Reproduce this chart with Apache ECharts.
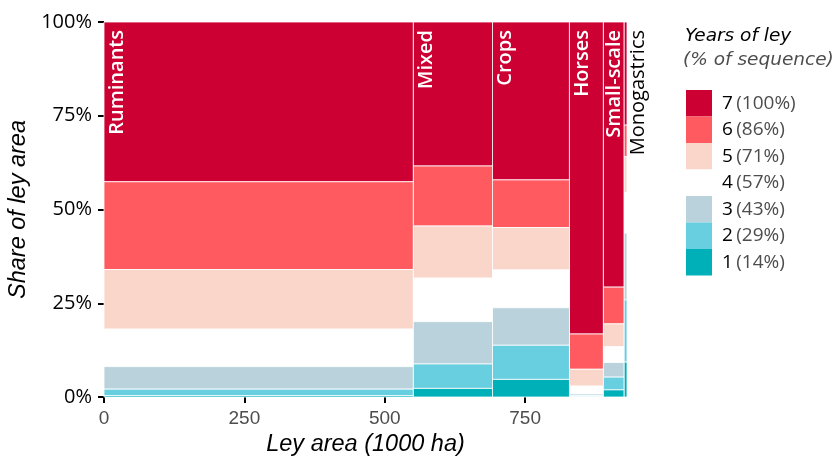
<!DOCTYPE html>
<html><head><meta charset="utf-8">
<script src="https://cdn.jsdelivr.net/npm/echarts@6/dist/echarts.min.js"></script>
<style>html,body{margin:0;padding:0;background:#fff}#c{width:839px;height:457px}</style>
</head><body><div id="c"></div>
<script>
// Farm groups and their ley area (1000 ha)
const groups = ['Ruminants', 'Mixed', 'Crops', 'Horses', 'Small-scale', 'Monogastrics'];
const leyArea = [551, 141, 137, 60.5, 37, 5];
// Years of ley in the sequence (legend), top to bottom
const years = ['7', '6', '5', '4', '3', '2', '1'];
const yearPct = ['100%', '86%', '71%', '57%', '43%', '29%', '14%'];
// Share of ley area (%) per group for each number of ley years
const share1 = [0.4, 2.3, 4.7, 0.1, 1.9, 9.3];
const share2 = [1.7, 6.5, 9.1, 0.3, 3.4, 16.6];
const share3 = [6.0, 11.3, 10.0, 0.4, 3.9, 17.8];
const share4 = [10.0, 11.6, 10.1, 2.1, 4.2, 10.8];
const share5 = [15.9, 13.9, 11.3, 4.5, 6.1, 9.6];
const share6 = [23.4, 16.0, 12.7, 9.4, 9.8, 8.4];
const share7 = [42.6, 38.4, 42.1, 83.2, 70.7, 27.5];
// tick values
const yTicks = [0, 25, 50, 75, 100];
const xTicks = [0, 250, 500, 750];

const colors = {'7':'#CC0033','6':'#FF5A5F','5':'#FAD5C9','4':'#FFFFFF','3':'#B9D2DB','2':'#67CFE0','1':'#00B0B9'};
const sharesByYear = {'1':share1,'2':share2,'3':share3,'4':share4,'5':share5,'6':share6,'7':share7};

// cumulative x positions
const xStart = [];
let acc = 0;
leyArea.forEach(a => { xStart.push(acc); acc += a; });
const xMax = acc;

// stacked from year 1 at bottom to year 7 on top
const stackOrder = ['1','2','3','4','5','6','7'];
const rectData = {};
const base = groups.map(() => 0);
stackOrder.forEach(y => {
  const s = sharesByYear[y];
  rectData[y] = groups.map((g, i) => {
    const row = [xStart[i], xStart[i] + leyArea[i], base[i], base[i] + s[i]];
    base[i] += s[i];
    return row;
  });
});

const chart = echarts.init(document.getElementById('c'), null, {renderer: 'canvas'});

const series = years.map(y => ({
  name: y,
  type: 'custom',
  itemStyle: {color: colors[y]},
  data: rectData[y],
  renderItem: function (params, api) {
    const p0 = api.coord([api.value(0), api.value(3)]);
    const p1 = api.coord([api.value(1), api.value(2)]);
    return {
      type: 'rect',
      shape: {x: p0[0], y: p0[1], width: p1[0] - p0[0], height: p1[1] - p0[1]},
      style: {fill: colors[y], stroke: '#ffffff', lineWidth: 0.8}
    };
  }
}));

series.push({
  type: 'custom',
  name: 'labels',
  silent: true,
  z: 10,
  data: groups.map((g, i) => [xStart[i], xStart[i] + leyArea[i], i]),
  renderItem: function (params, api) {
    const i = api.value(2);
    const a = api.coord([api.value(0), 100]);
    const b = api.coord([api.value(1), 100]);
    const w = b[0] - a[0];
    const last = i === groups.length - 1;
    const off = last ? 14 : Math.min(13, w / 2);
    return {
      type: 'text',
      x: a[0] + off,
      y: a[1] + 8,
      rotation: Math.PI / 2,
      style: {
        text: groups[i],
        fill: last ? '#000000' : '#ffffff',
        font: (last ? '400 ' : '600 ') + '20px "Open Sans"',
        align: 'right',
        verticalAlign: 'middle'
      }
    };
  }
});

chart.setOption({
  animation: false,
  backgroundColor: '#ffffff',
  grid: {left: 104, right: 212, top: 22, bottom: 60, containLabel: false, outerBoundsMode: 'none'},
  xAxis: {
    type: 'value', min: 0, max: xMax, interval: 250,
    name: 'Ley area (1000 ha)', nameLocation: 'middle', nameGap: 32,
    nameTextStyle: {fontFamily: 'Liberation Sans', fontStyle: 'italic', fontSize: 23.5, color: '#000'},
    axisLine: {show: false},
    axisTick: {show: true, length: 6, lineStyle: {color: '#000', width: 2}},
    axisLabel: {color: '#4D4D4D', fontFamily: 'Liberation Sans', fontSize: 19, margin: 12, showMaxLabel: false,
      formatter: v => xTicks.indexOf(v) >= 0 ? String(v) : ''},
    splitLine: {show: false}
  },
  yAxis: {
    type: 'value', min: 0, max: 100, interval: 25,
    name: 'Share of ley area', nameLocation: 'middle', nameGap: 66, nameRotate: 90,
    nameTextStyle: {fontFamily: 'Liberation Sans', fontStyle: 'italic', fontSize: 23.5, color: '#000'},
    axisLine: {show: false},
    axisTick: {show: true, length: 6, lineStyle: {color: '#000', width: 2}},
    axisLabel: {color: '#000', fontFamily: 'Open Sans', fontSize: 20, margin: 12,
      formatter: v => yTicks.indexOf(v) >= 0 ? v + '%' : ''},
    splitLine: {show: false}
  },
  legend: {
    orient: 'vertical', left: 686, top: 90, padding: 0,
    itemWidth: 26, itemHeight: 26.5, itemGap: 0, icon: 'rect',
    selectedMode: false,
    data: years,
    formatter: name => '{a|' + name + '} {b|(' + yearPct[years.indexOf(name)] + ')}',
    textStyle: {
      rich: {
        a: {fontFamily: 'Open Sans', fontSize: 19, color: '#000', padding: [0, 0, 0, 5]},
        b: {fontFamily: 'Open Sans', fontSize: 19, color: '#4D4D4D'}
      }
    },
    itemStyle: {borderWidth: 0}
  },
  graphic: [
    {type: 'text', left: 685, top: 27, style: {text: 'Years of ley', font: 'italic 18.5px "DejaVu Sans"', fill: '#000'}},
    {type: 'text', left: 683, top: 51, style: {text: '(% of sequence)', font: 'italic 18.5px "DejaVu Sans"', fill: '#4D4D4D'}}
  ],
  series: series
});
</script>
</body></html>
